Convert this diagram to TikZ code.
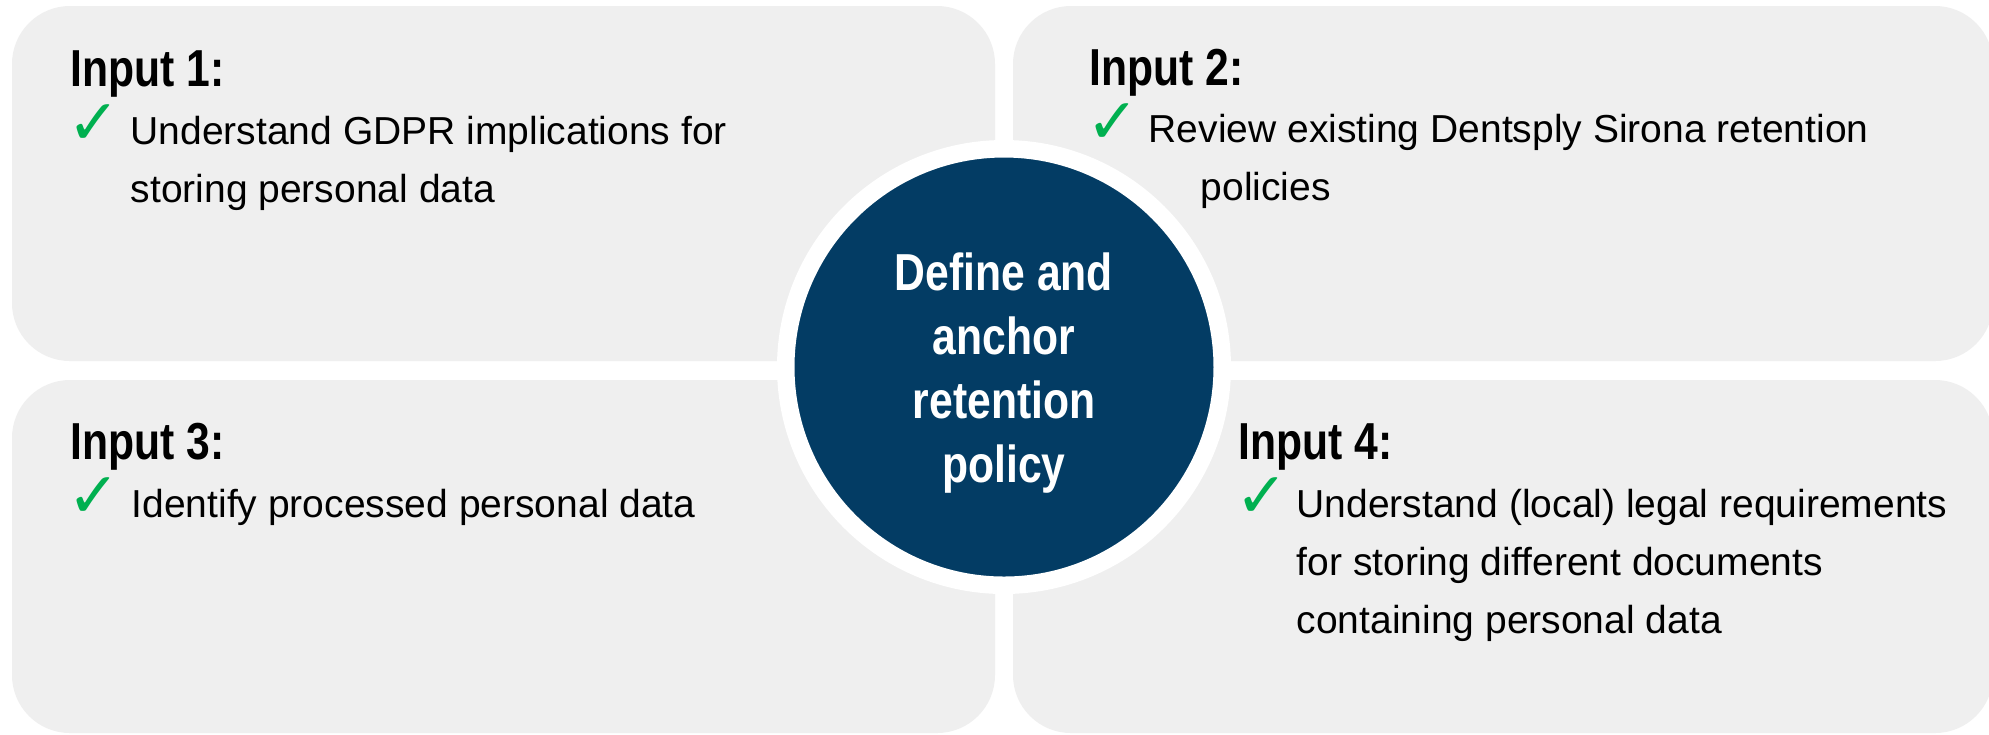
\documentclass[tikz,border=0pt]{standalone}
\usepackage{fontspec}
\setmainfont{Liberation Sans}
\newfontfamily\narrowfont{Liberation Sans}[FakeStretch=0.82]
\newfontfamily\tickfont{DejaVu Sans}

\definecolor{panelgray}{HTML}{EFEFEF}
\definecolor{corenavy}{HTML}{033C64}
\definecolor{tickgreen}{HTML}{00B050}

\tikzset{
    panel/.style={fill=panelgray, rounded corners=5.8mm},
    heading/.style={anchor=base west, inner sep=0pt, font=\narrowfont\bfseries\fontsize{14.8}{18}\selectfont},
    tick/.style={anchor=base west, inner sep=0pt, text=tickgreen, font=\tickfont\fontsize{18}{20}\selectfont},
    % base of a multi-line node sits on its last line
    body/.style={anchor=base west, inner sep=0pt, align=left, font=\fontsize{11.1}{16.5}\selectfont},
}

\begin{document}
\begin{tikzpicture}[x=0.1mm, y=-0.1mm]
    \useasboundingbox (0,0) rectangle (1989,734);
    \fill[white] (0,0) rectangle (1989,734);

    % four panels with white gaps between them
    \foreach \xa/\ya/\xb/\yb in {12/6/995/361, 1013/6/1993/361, 12/380/995/733, 1013/380/1993/733}
        \fill[panel] (\xa,\ya) rectangle (\xb,\yb);

    % headings with their ticks
    \foreach \n/\x/\y in {1/70/86, 2/1089/85, 3/70/459, 4/1238/459} {
        \node[heading] (in\n) at (\x,\y) {Input \n:};
        \node[tick] (tick\n) at (\x-3,\y+58) {✓};
    }

    \node[body] (txt1) at (130,202) {Understand GDPR implications for\\storing personal data};
    \node[body] (txt2) at (1148,200) {Review existing Dentsply Sirona retention\\\hspace{5.2mm}policies};
    \node[body] (txt3) at (131,517) {Identify processed personal data};
    \node[body] (txt4) at (1296,633) {Understand (local) legal requirements\\for storing different documents\\containing personal data};

    % centre disc
    \node[circle, fill=corenavy, draw=white, line width=1.75mm, minimum size=43.65mm, inner sep=0pt]
          (core) at (1004,367) {};
    \node[text=white, align=center, font=\narrowfont\bfseries\fontsize{14.8}{18.2}\selectfont]
          (corelabel) at ([yshift=-0.6mm]core.center) {Define and\\anchor\\retention\\policy};
\end{tikzpicture}
\end{document}
